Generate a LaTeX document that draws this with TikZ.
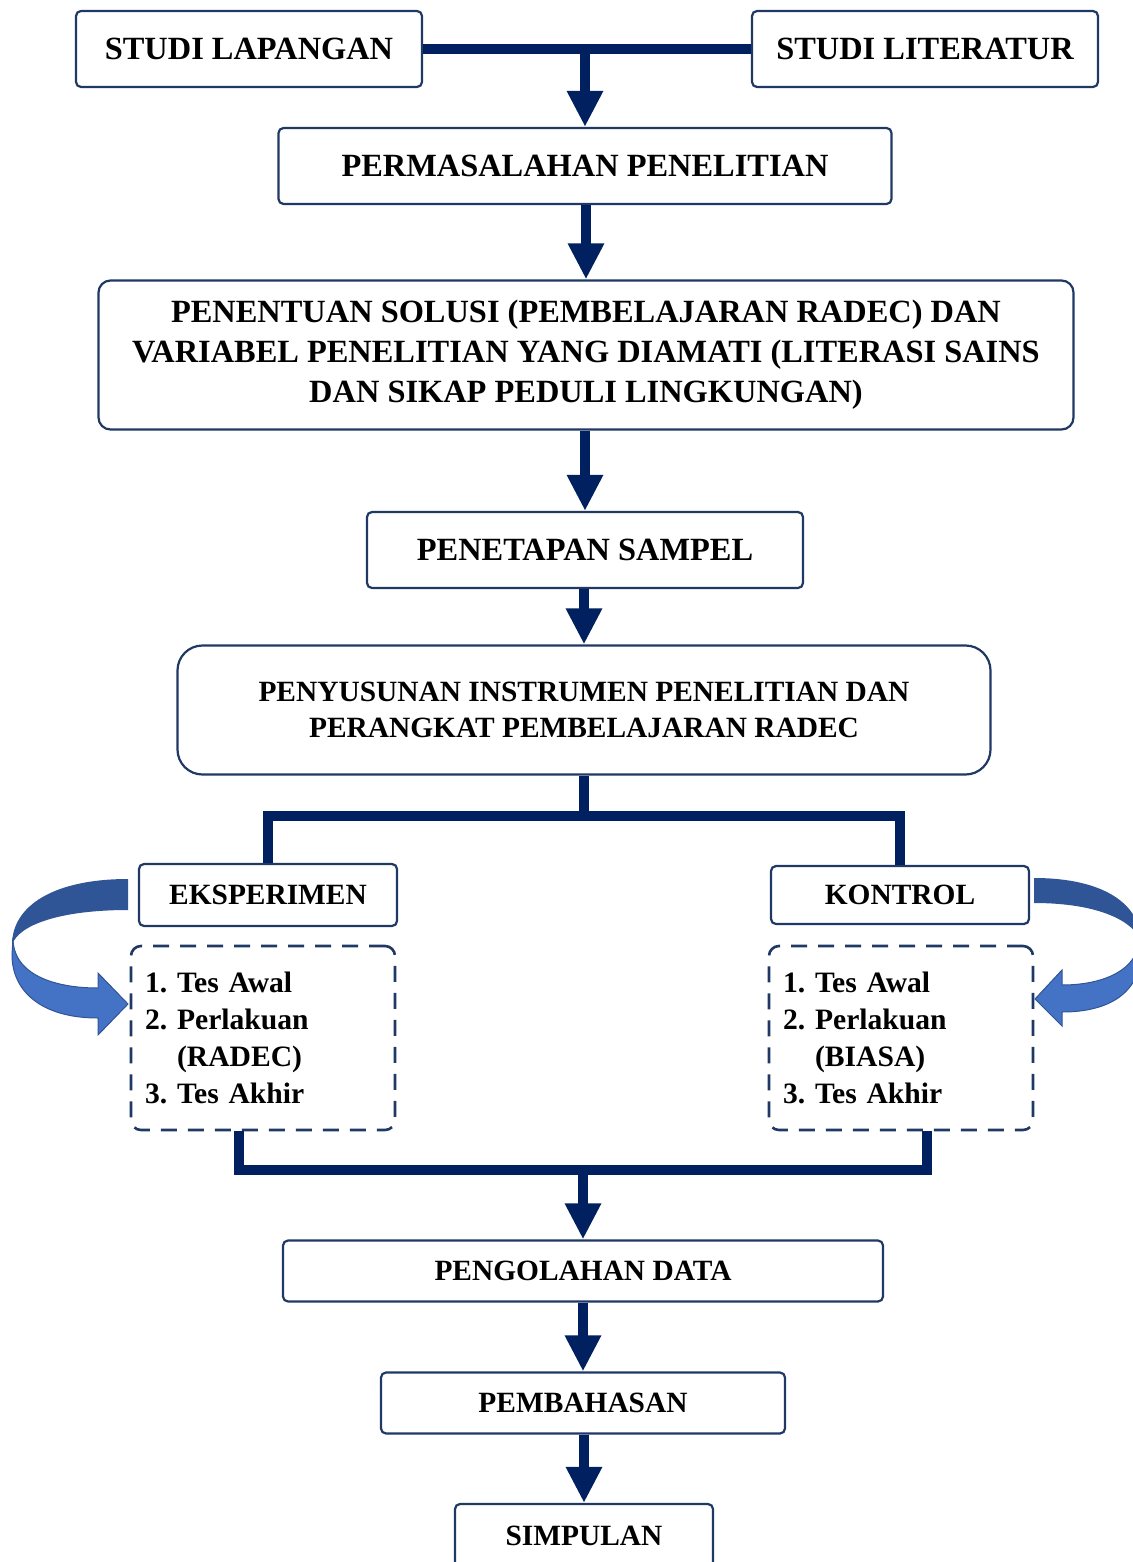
\documentclass[tikz,border=0pt]{standalone}
\usepackage{fontspec}
\setmainfont{Liberation Serif}
\usetikzlibrary{arrows.meta}

\definecolor{navy}{RGB}{0,32,96}
\definecolor{boxline}{RGB}{31,56,100}
\definecolor{bandtop}{RGB}{47,85,151}
\definecolor{bandlow}{RGB}{68,114,196}

\tikzset{
 box/.style={draw=boxline,line width=1.1pt,rounded corners=2.5pt,fill=white,
  font=\fontsize{14.7}{20}\selectfont\bfseries,align=center,inner sep=0pt},
 bigbox/.style={box,font=\fontsize{16.2}{20}\selectfont\bfseries},
 listbox/.style={box,line width=1.3pt,dash pattern=on 8pt off 5.5pt,rounded corners=5pt,
  align=left,text width=118pt,inner sep=7pt,minimum height=92pt,
  font=\fontsize{14.8}{18.5}\selectfont\bfseries\frenchspacing},
 conn/.style={draw=navy,line width=5pt},
 arr/.style={conn,-{Triangle[width=17pt,length=18pt]}}
}

\begin{document}
\begin{tikzpicture}[x=0.5pt,y=-0.5pt]
\useasboundingbox (0,0) rectangle (1132,1562);

% curved block arrows
\fill[bandlow,draw=bandtop,line width=0.5pt] (13,938) .. controls (13,975) and (55,988) .. (98,988)
 -- (98,973) -- (128,1004) -- (98,1035) -- (98,1018)
 .. controls (40,1018) and (12,990) .. (12,955) -- cycle;
\fill[bandtop] (128,879) .. controls (55,879) and (12,905) .. (12,945)
 .. controls (18,925) and (60,910) .. (128,910) -- cycle;
\fill[bandlow,draw=bandtop,line width=0.5pt] (1140,935) .. controls (1140,972) and (1100,985) .. (1062,985)
 -- (1062,970) -- (1035,999) -- (1062,1026) -- (1062,1012)
 .. controls (1115,1012) and (1141,988) .. (1141,952) -- cycle;
\fill[bandtop] (1034,878) .. controls (1105,878) and (1141,905) .. (1141,942)
 .. controls (1135,922) and (1100,903) .. (1034,903) -- cycle;

\node[bigbox,minimum width=173pt,minimum height=38pt] (lap) at (249,49) {STUDI LAPANGAN};
\node[bigbox,minimum width=173pt,minimum height=38pt] (lit) at (925,49) {STUDI LITERATUR};
\node[bigbox,minimum width=306.5pt,minimum height=38pt] (perm) at (585,166) {PERMASALAHAN PENELITIAN};
\node[bigbox,minimum width=487.5pt,minimum height=74.5pt,rounded corners=6pt] (solusi) at (586,355)
 {PENENTUAN SOLUSI (PEMBELAJARAN RADEC) DAN\\VARIABEL PENELITIAN YANG DIAMATI (LITERASI SAINS\\DAN SIKAP PEDULI LINGKUNGAN)};
\node[bigbox,minimum width=218pt,minimum height=38pt] (sampel) at (585,550) {PENETAPAN SAMPEL};
\node[box,minimum width=406.5pt,minimum height=64.5pt,rounded corners=12.5pt,
 font=\fontsize{14.7}{18}\selectfont\bfseries] (susun) at (584,710)
 {PENYUSUNAN INSTRUMEN PENELITIAN DAN\\PERANGKAT PEMBELAJARAN RADEC};
\node[box,minimum width=129pt,minimum height=31pt] (eks) at (268,895) {EKSPERIMEN};
\node[box,minimum width=129pt,minimum height=29pt] (kon) at (900,895) {KONTROL};
\node[listbox] (elist) at (263,1038) {1. Tes Awal\\2. Perlakuan\\\phantom{2. }(RADEC)\\3. Tes Akhir};
\node[listbox] (klist) at (901,1038) {1. Tes Awal\\2. Perlakuan\\\phantom{2. }(BIASA)\\3. Tes Akhir};
\node[box,minimum width=300pt,minimum height=30.5pt] (olah) at (583,1271) {PENGOLAHAN DATA};
\node[box,minimum width=202pt,minimum height=30.5pt] (bahas) at (583,1403) {PEMBAHASAN};
\node[box,minimum width=129pt,minimum height=32pt] (simp) at (584,1536) {SIMPULAN};

% connectors
\draw[conn] (lap.east) -- (lit.west);
\draw[arr] (perm.north |- lap.east) -- (perm.north);
\foreach \a/\b in {perm/solusi,solusi/sampel,sampel/susun,olah/bahas,bahas/simp}
 \draw[arr] (\b.north |- \a.south) -- (\b.north);
\draw[conn] (susun.south) -- ++(0,40) coordinate (br);
\draw[conn] (eks.north) |- (br) -| (kon.north);
\coordinate (ej) at (239,1170);
\coordinate (kj) at (927,1170);
\draw[conn] (elist.south -| ej) -- (ej) -- (kj) -- (klist.south -| kj);
\draw[arr] (olah.north |- ej) -- (olah.north);
\end{tikzpicture}
\end{document}
